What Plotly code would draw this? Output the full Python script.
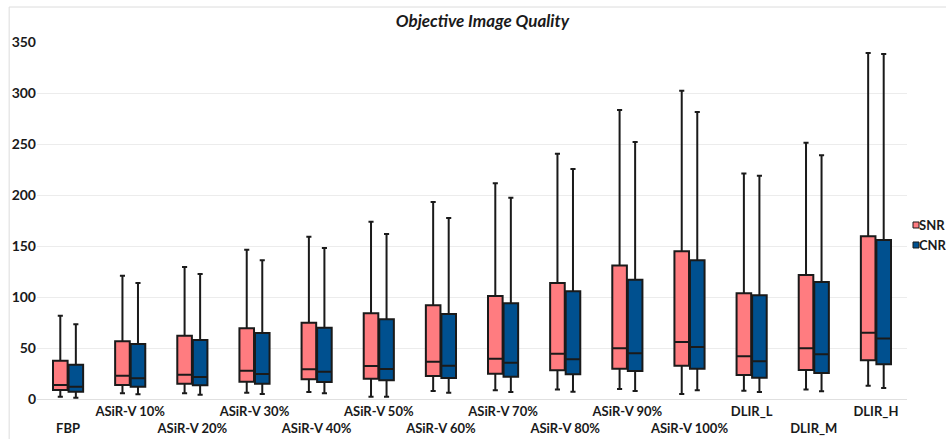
import plotly.graph_objects as go

categories = ["FBP", "ASiR-V 10%", "ASiR-V 20%", "ASiR-V 30%", "ASiR-V 40%",
              "ASiR-V 50%", "ASiR-V 60%", "ASiR-V 70%", "ASiR-V 80%", "ASiR-V 90%",
              "ASiR-V 100%", "DLIR_L", "DLIR_M", "DLIR_H"]

snr_min = [2.3, 5.6, 5.6, 6.2, 6.9, 2.3, 7.8, 8.5, 9.2, 9.8, 4.9, 8.2, 9.2, 13.1]
snr_q1 = [8.8, 13.7, 15.0, 17.0, 19.3, 19.9, 22.5, 24.8, 28.1, 29.7, 32.7, 23.5, 28.4, 37.9]
snr_med = [13.7, 22.9, 23.8, 27.8, 29.1, 32.4, 36.6, 39.5, 44.4, 49.7, 55.9, 41.8, 49.7, 65.0]
snr_q3 = [37.6, 56.5, 62.0, 69.3, 74.8, 84.0, 91.8, 101.0, 113.7, 131.0, 144.8, 103.6, 121.6, 159.5]
snr_max = [81.7, 120.9, 129.4, 146.4, 159.1, 173.8, 193.1, 211.4, 240.5, 283.3, 302.3, 221.2, 251.3, 339.2]

cnr_min = [1.3, 4.6, 4.2, 4.9, 5.6, 2.3, 6.2, 6.9, 7.2, 7.8, 8.5, 6.9, 7.5, 10.8]
cnr_q1 = [7.2, 12.0, 13.4, 15.0, 16.7, 18.3, 20.6, 21.9, 24.2, 27.5, 29.7, 20.9, 25.5, 34.0]
cnr_med = [12.0, 20.3, 21.6, 24.5, 26.8, 29.4, 32.7, 35.6, 38.9, 44.8, 51.0, 36.9, 43.8, 59.2]
cnr_q3 = [33.6, 53.9, 57.8, 64.7, 69.9, 78.1, 83.3, 93.8, 105.6, 117.0, 136.0, 101.6, 114.7, 155.9]
cnr_max = [73.2, 113.7, 122.5, 136.0, 148.0, 161.8, 177.5, 197.4, 225.5, 252.0, 281.4, 218.9, 238.9, 338.2]

y_ticks = [0, 50, 100, 150, 200, 250, 300, 350]
series_names = ["SNR", "CNR"]

SNR_COLOR = "#FF7C80"
CNR_COLOR = "#00508F"
LINE_COLOR = "#1a1a1a"
colors = [SNR_COLOR, CNR_COLOR]

fig = go.Figure()
for name, color, lo, q1, med, q3, hi in [
    ("SNR", SNR_COLOR, snr_min, snr_q1, snr_med, snr_q3, snr_max),
    ("CNR", CNR_COLOR, cnr_min, cnr_q1, cnr_med, cnr_q3, cnr_max),
]:
    fig.add_trace(go.Box(
        name=name, x=categories, q1=q1, median=med, q3=q3,
        lowerfence=lo, upperfence=hi,
        fillcolor=color, line=dict(color=LINE_COLOR, width=2),
        whiskerwidth=0.35, boxpoints=False, showlegend=False,
        hoverinfo="skip",
    ))

ticktext = [c if i % 2 == 1 else "<br>" + c for i, c in enumerate(categories)]

fig.update_layout(
    template="none",
    width=946, height=439,
    paper_bgcolor="white", plot_bgcolor="white",
    margin=dict(l=37, r=39, t=42, b=40, autoexpand=False),
    boxmode="group", boxgap=0.5, boxgroupgap=0.06,
    title=dict(text="<b><i>Objective Image Quality</i></b>", x=0.51, xanchor="center",
               xref="container", yref="container",
               y=0.952, yanchor="middle",
               font=dict(family="Lato", size=17, color="#1a1a1a")),
    font=dict(family="Lato", color="#1a1a1a"),
    showlegend=False,
)
fig.update_xaxes(
    type="category", categoryorder="array", categoryarray=categories,
    tickmode="array", tickvals=categories, ticktext=ticktext,
    range=[-0.5, 13.5], showgrid=False, zeroline=False, showline=False,
    tickfont=dict(family="Lato", size=13, color="#1a1a1a", weight="bold"),
    tickangle=0, ticks="", automargin=False, ticklabelstandoff=3,
)
fig.update_yaxes(
    range=[0, 350], tickmode="array", tickvals=y_ticks, showgrid=True,
    gridcolor="#ececec", gridwidth=1, zeroline=True, zerolinecolor="#e0e0e0",
    zerolinewidth=1, showline=False, ticks="", automargin=False,
    tickfont=dict(family="Lato", size=14, color="#1a1a1a", weight="bold"),
)
# outer chart-area border
fig.add_shape(type="rect", xref="paper", yref="paper",
              x0=-0.032, x1=1.2, y0=-0.3, y1=1.098,
              line=dict(color="#dcdcdc", width=1), fillcolor="rgba(0,0,0,0)",
              layer="below")

# legend drawn as small squares + labels (tight spacing like the reference)
leg_y = [0.4874, 0.4314]
for name, color, yc in zip(series_names, colors, leg_y):
    fig.add_shape(type="rect", xref="paper", yref="paper",
                  x0=1.0069, x1=1.0138, y0=yc - 0.0084, y1=yc + 0.0084,
                  line=dict(color=LINE_COLOR, width=1), fillcolor=color)
    fig.add_annotation(text="<b>" + name + "</b>", xref="paper", yref="paper",
                       x=1.0138, y=yc, xanchor="left", yanchor="middle",
                       showarrow=False, xshift=-2,
                       font=dict(family="Lato", size=13, color="#1a1a1a"))

fig.write_html("out.html",
               config={"displayModeBar": False},
               post_script="document.body.style.margin='0';document.body.style.overflow='hidden';")
